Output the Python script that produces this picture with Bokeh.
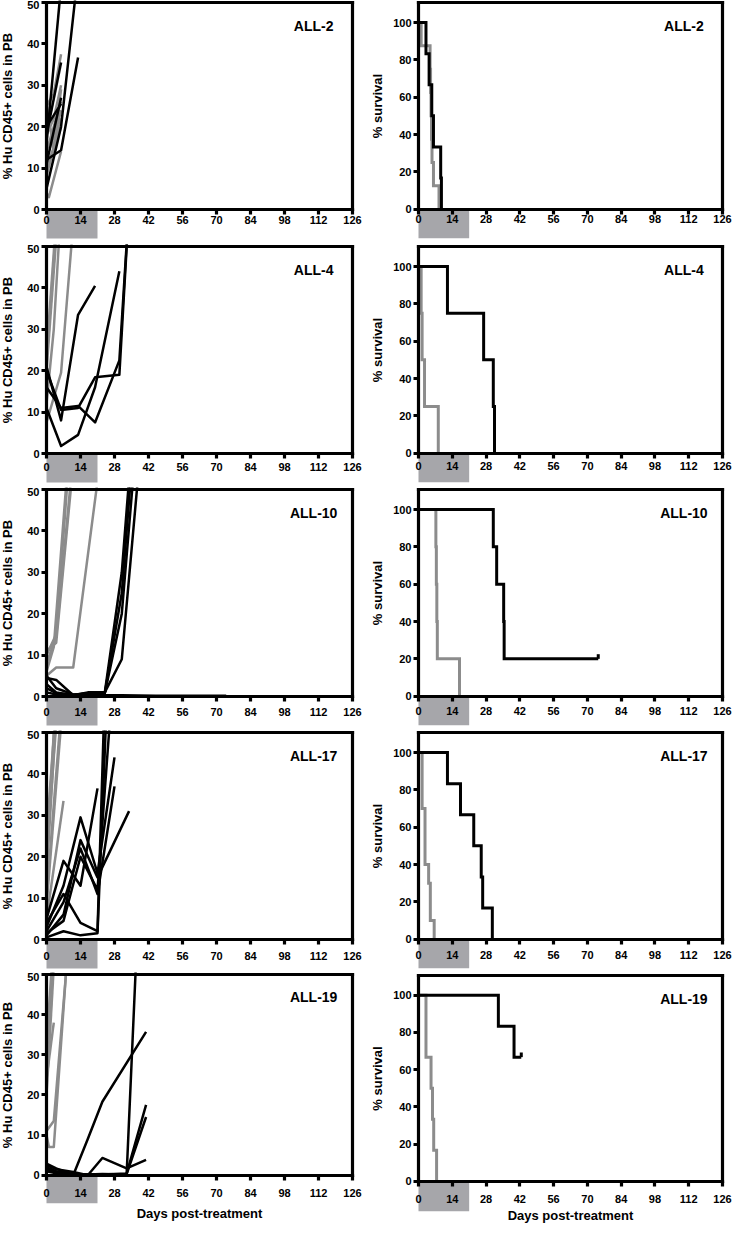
from bokeh.plotting import figure
from bokeh.models import Range1d, LinearAxis, FixedTicker, Label
from bokeh.layouts import column, row
from bokeh.embed import file_html
from bokeh.resources import INLINE

# ---------------------------------------------------------------- data
X_TICKS = [0, 14, 28, 42, 56, 70, 84, 98, 112, 126]
PB_TICKS = [0, 10, 20, 30, 40, 50]
SURV_TICKS = [0, 20, 40, 60, 80, 100]
X_MAX = 126
PB_MAX = 50
SURV_MAX = 110.7
TREATMENT_WINDOW = [0, 21]
MODELS = ["ALL-2", "ALL-4", "ALL-10", "ALL-17", "ALL-19"]

# ALL-2  (grey = vehicle, black = treated)
all2_ctrl_days = [[0, 3, 6], [0, 3, 6], [0, 3, 6], [0, 1, 6], [0, 3, 6], [0, 3, 6], [0, 6], [0, 3, 6]]
all2_ctrl_pct = [[25, 28, 37.5], [18, 22, 30], [10, 15, 29], [4, 3, 14], [14, 20, 26], [22, 17, 24], [8, 22], [26, 14, 20]]
all2_trt_days = [[0, 6], [0, 6, 13], [0, 6, 12], [0, 6], [0, 6], [0, 6]]
all2_trt_pct = [[16, 54], [12, 14.3, 36.7], [5, 20, 52], [18, 35.5], [11, 27], [20, 25.5]]
all2_ctrl_km_t = [0, 1.1, 4.8, 5.0, 5.2, 5.4, 5.6, 6.2, 8.5]
all2_ctrl_km_s = [100, 87.5, 75, 62.5, 50, 37.5, 25, 12.5, 0]
all2_trt_km_t = [0, 3.1, 4.4, 5.5, 6.2, 9.2, 9.5]
all2_trt_km_s = [100, 83.3, 66.7, 50, 33.3, 16.7, 0]

# ALL-4
all4_ctrl_days = [[0, 6, 13], [0, 5], [0, 5], [0, 3, 6]]
all4_ctrl_pct = [[7.5, 19.5, 70], [20, 60], [24, 65], [12, 30, 60]]
all4_trt_days = [[0, 6, 13, 20], [0, 6, 13, 20, 30, 34], [0, 6, 13, 20, 30], [0, 6, 13, 20, 30, 34]]
all4_trt_pct = [[21, 8, 33.5, 40.5], [16, 11, 11.5, 7.5, 22.5, 60], [11, 1.8, 4.5, 16, 44], [20, 10.5, 11, 18.4, 19, 60]]
all4_ctrl_km_t = [0, 1.1, 1.5, 2.5, 8.2]
all4_ctrl_km_s = [100, 75, 50, 25, 0]
all4_trt_km_t = [0, 12, 27, 31, 31.5]
all4_trt_km_s = [100, 75, 50, 25, 0]

# ALL-10
all10_ctrl_days = [[0, 4, 10], [0, 4, 9], [0, 3, 9], [0, 4, 10], [0, 4, 11, 21]]
all10_ctrl_pct = [[8, 14.5, 52], [10, 15, 55], [6, 12, 58], [11, 13, 50], [5, 7, 7, 52]]
all10_trt_days = [[0, 4, 11, 17, 24, 31, 38], [0, 4, 11, 17, 24, 31, 35], [0, 4, 11, 17, 24, 31, 35],
                  [0, 4, 11, 17, 24, 31, 36], [0, 4, 11, 17, 24, 31, 45, 74]]
all10_trt_pct = [[4.5, 4, 0.3, 1, 1, 9, 55], [3, 1, 0.3, 0.8, 0.8, 25, 55], [2, 0.8, 0.4, 0.8, 1, 30, 60],
                 [1, 0.5, 0.3, 0.5, 0.8, 20, 55], [5, 2, 0.5, 0.5, 0.3, 0.3, 0.2, 0.2]]
all10_ctrl_km_t = [0, 7.2, 7.4, 7.6, 7.8, 17]
all10_ctrl_km_s = [100, 80, 60, 40, 20, 0]
all10_trt_km_t = [0, 31, 32.4, 35.3, 35.5, 74.5]
all10_trt_km_s = [100, 80, 60, 40, 20, 20]

# ALL-17
all17_ctrl_days = [[0, 5], [0, 5], [0, 4], [0, 6], [0, 7], [0, 3], [0, 6]]
all17_ctrl_pct = [[20, 60], [25, 65], [15, 55], [10, 55], [5, 33.5], [18, 50], [8, 52]]
all17_trt_days = [[0, 7, 14, 21], [0, 7, 14, 21, 28], [0, 7, 14, 21, 28], [0, 7, 14, 21, 34],
                  [0, 7, 14, 21, 24], [0, 7, 14, 21, 25], [0, 7, 14, 21, 27]]
all17_trt_pct = [[5, 19, 13, 36.5], [3, 13, 29.5, 16, 44], [2, 9, 22, 11, 37], [1, 6, 24, 15, 31],
                 [4, 11, 4, 2, 60], [0.5, 2, 1, 1.5, 60], [1.5, 4.5, 20, 12, 60]]
all17_ctrl_km_t = [0, 1.5, 2.7, 4.2, 4.9, 6.5]
all17_ctrl_km_s = [100, 70, 40, 30, 10, 0]
all17_trt_km_t = [0, 12, 17.4, 22.9, 26, 26.6, 30.6]
all17_trt_km_s = [100, 83.3, 66.7, 50, 33.3, 16.7, 0]

# ALL-19
all19_ctrl_days = [[0, 3], [0, 3], [0, 1, 3, 8], [0, 3, 8], [0, 3], [0, 3]]
all19_ctrl_pct = [[28, 55], [24, 38], [10, 7, 7, 50], [11, 13.5, 50], [20, 52], [32, 60]]
all19_trt_days = [[0, 4, 11, 17, 23, 41], [0, 4, 11, 17, 23, 33, 41], [0, 4, 11, 17, 23, 33, 37],
                  [0, 4, 11, 17, 23, 33, 41], [0, 4, 11, 17, 23, 33, 41]]
all19_trt_pct = [[2.9, 1.7, 0, 9, 18.3, 35.7], [2.5, 1.5, 0.8, 0, 4.3, 1.7, 3.8], [2, 1, 0.3, 0.2, 0.3, 0.2, 55],
                 [1.5, 0.8, 0.3, 0.2, 0.2, 0.4, 17.5], [1, 0.5, 0.2, 0.1, 0.2, 0.3, 14.5]]
all19_ctrl_km_t = [0, 3.1, 5.2, 5.8, 6.3, 7.5]
all19_ctrl_km_s = [100, 66.7, 50, 33.3, 16.7, 0]
all19_trt_km_t = [0, 33.1, 39.6, 42.6]
all19_trt_km_s = [100, 83.3, 66.7, 66.7]

# models whose treated curve ends with censored animals
CENSORED = ["ALL-10", "ALL-19"]

PB_DATA = [
    (all2_ctrl_days, all2_ctrl_pct, all2_trt_days, all2_trt_pct),
    (all4_ctrl_days, all4_ctrl_pct, all4_trt_days, all4_trt_pct),
    (all10_ctrl_days, all10_ctrl_pct, all10_trt_days, all10_trt_pct),
    (all17_ctrl_days, all17_ctrl_pct, all17_trt_days, all17_trt_pct),
    (all19_ctrl_days, all19_ctrl_pct, all19_trt_days, all19_trt_pct),
]
KM_DATA = [
    (all2_ctrl_km_t, all2_ctrl_km_s, all2_trt_km_t, all2_trt_km_s),
    (all4_ctrl_km_t, all4_ctrl_km_s, all4_trt_km_t, all4_trt_km_s),
    (all10_ctrl_km_t, all10_ctrl_km_s, all10_trt_km_t, all10_trt_km_s),
    (all17_ctrl_km_t, all17_ctrl_km_s, all17_trt_km_t, all17_trt_km_s),
    (all19_ctrl_km_t, all19_ctrl_km_s, all19_trt_km_t, all19_trt_km_s),
]

# ---------------------------------------------------------------- style / layout
FONT = "Liberation Sans"
BLACK = "#000000"
GREY = "#8c8c8c"
BOX = "#a6a6aa"
AXW = 3.2
W_LEFT = 364
W_RIGHT = 368
L_X0, L_X126 = 46, 352      # pixel of day 0 / day 126 inside the left canvases
R_X0, R_X126 = 54, 358      # same for the right canvases

# row geometry (pixels inside each canvas)
ROWS = [
    dict(h=244, l_top=2, l_zero=209, l_box=29, r_top=2, r_hundred=22, r_zero=208.7, r_box=29, std=1),
    dict(h=243, l_top=2, l_zero=209, l_box=29, r_top=2, r_hundred=22, r_zero=208.7, r_box=29, std=4),
    dict(h=243, l_top=2, l_zero=209, l_box=29, r_top=2, r_hundred=22, r_zero=208.7, r_box=29, std=6),
    dict(h=242, l_top=2, l_zero=209, l_box=29, r_top=2, r_hundred=22, r_zero=208.7, r_box=29, std=7),
    dict(h=255, l_top=2, l_zero=202.7, l_box=28, r_top=3, r_hundred=22.7, r_zero=208.7, r_box=30, std=9),
]


def style_axis(ax, ticks, bounds, loc, standoff):
    ax.ticker = FixedTicker(ticks=ticks)
    ax.bounds = bounds
    ax.fixed_location = loc
    ax.axis_line_width = AXW
    ax.axis_line_color = "black"
    ax.axis_line_cap = "square"
    ax.major_tick_line_width = AXW
    ax.major_tick_line_color = "black"
    ax.major_tick_out = 5
    ax.major_tick_in = 0
    ax.minor_tick_out = 0
    ax.minor_tick_in = 0
    ax.major_label_standoff = standoff
    ax.major_label_text_font = FONT
    ax.major_label_text_font_size = "11px"
    ax.major_label_text_font_style = "bold"
    ax.major_label_text_color = "black"
    ax.axis_label_text_font = FONT
    ax.axis_label_text_font_size = "13px"
    ax.axis_label_text_font_style = "bold"
    ax.axis_label_text_color = "black"


def border_axis(bounds, loc):
    return LinearAxis(ticker=FixedTicker(ticks=[]), bounds=bounds, fixed_location=loc,
                      axis_line_width=AXW, axis_line_color="black", axis_line_cap="square",
                      major_tick_out=0, major_tick_in=0, minor_tick_out=0, minor_tick_in=0,
                      major_label_standoff=0, major_label_text_font_size="0px")


def make_fig(W, H, x0px, x126px, top_val, top_px, ref_val, ref_px, zero_px, box_px,
             yticks, ylabel, ylabel_standoff, x_std, xlabel, xlabel_standoff):
    sx = (x126px - x0px) / X_MAX
    x_start = -x0px / sx
    x_end = x_start + W / sx
    sy = (zero_px - ref_px) / ref_val
    y_end = ref_val + ref_px / sy
    y_start = ref_val - (H - ref_px) / sy

    p = figure(x_range=Range1d(x_start, x_end), y_range=Range1d(y_start, y_end),
               width=W, height=H, min_border=0,
               x_axis_location=None, y_axis_location=None,
               output_backend="svg", toolbar_location=None, tools="")
    p.outline_line_color = None
    p.xgrid.visible = False
    p.ygrid.visible = False
    p.background_fill_color = "white"
    p.border_fill_color = "white"

    # treatment window box below the x axis
    p.quad(left=[TREATMENT_WINDOW[0]], right=[TREATMENT_WINDOW[1]], bottom=[-box_px / sy], top=[0],
           fill_color=BOX, line_color=None, level="underlay")

    xa = LinearAxis()
    style_axis(xa, X_TICKS, (0, X_MAX), 0, x_std)
    if xlabel:
        xa.axis_label = xlabel
        xa.axis_label_standoff = xlabel_standoff
    p.add_layout(xa, "below")

    ya = LinearAxis()
    style_axis(ya, yticks, (0, top_val), 0, 2)
    ya.axis_label = ylabel
    ya.axis_label_standoff = ylabel_standoff
    p.add_layout(ya, "left")

    p.add_layout(border_axis((0, X_MAX), top_val), "above")
    p.add_layout(border_axis((0, top_val), X_MAX), "right")
    return p


rows = []
for i, name in enumerate(MODELS):
    r = ROWS[i]
    last = i == len(MODELS) - 1
    # ---- left: % huCD45+ in PB
    pl = make_fig(W_LEFT, r["h"], L_X0, L_X126, PB_MAX, r["l_top"], PB_MAX, r["l_top"], r["l_zero"],
                  r["l_box"], PB_TICKS, "% Hu CD45+ cells in PB", 9, r["std"],
                  "Days post-treatment" if last else None, 5)
    cd, cp, td, tp = PB_DATA[i]
    pl.multi_line(xs=cd, ys=cp, line_color=GREY, line_width=2.5, line_join="round")
    pl.multi_line(xs=td, ys=tp, line_color=BLACK, line_width=2.5, line_join="round")
    pl.add_layout(Label(x=110, y=44.3, text=name, text_align="center", text_baseline="middle",
                        text_font=FONT, text_font_size="14px", text_font_style="bold",
                        text_color="black"))
    # ---- right: survival
    pr = make_fig(W_RIGHT, r["h"], R_X0, R_X126, SURV_MAX, r["r_top"], 100, r["r_hundred"], r["r_zero"],
                  r["r_box"], SURV_TICKS, "% survival", 5, r["std"],
                  "Days post-treatment" if last else None, 1)
    ct, cs, tt, ts = KM_DATA[i]
    pr.step(x=ct, y=cs, mode="after", line_color=GREY, line_width=3, line_join="miter")
    pr.step(x=tt, y=ts, mode="after", line_color=BLACK, line_width=3, line_join="miter")
    if name in CENSORED:
        pr.segment(x0=[tt[-1]], y0=[ts[-1]], x1=[tt[-1]], y1=[ts[-1] + 2.5],
                   line_color=BLACK, line_width=3)
    pr.add_layout(Label(x=110, y=98.0, text=name, text_align="center", text_baseline="middle",
                        text_font=FONT, text_font_size="14px", text_font_style="bold",
                        text_color="black"))
    rows.append(row(pl, pr, spacing=0))

layout = column(*rows, spacing=0)

open("out.html", "w").write(file_html(layout, INLINE))
